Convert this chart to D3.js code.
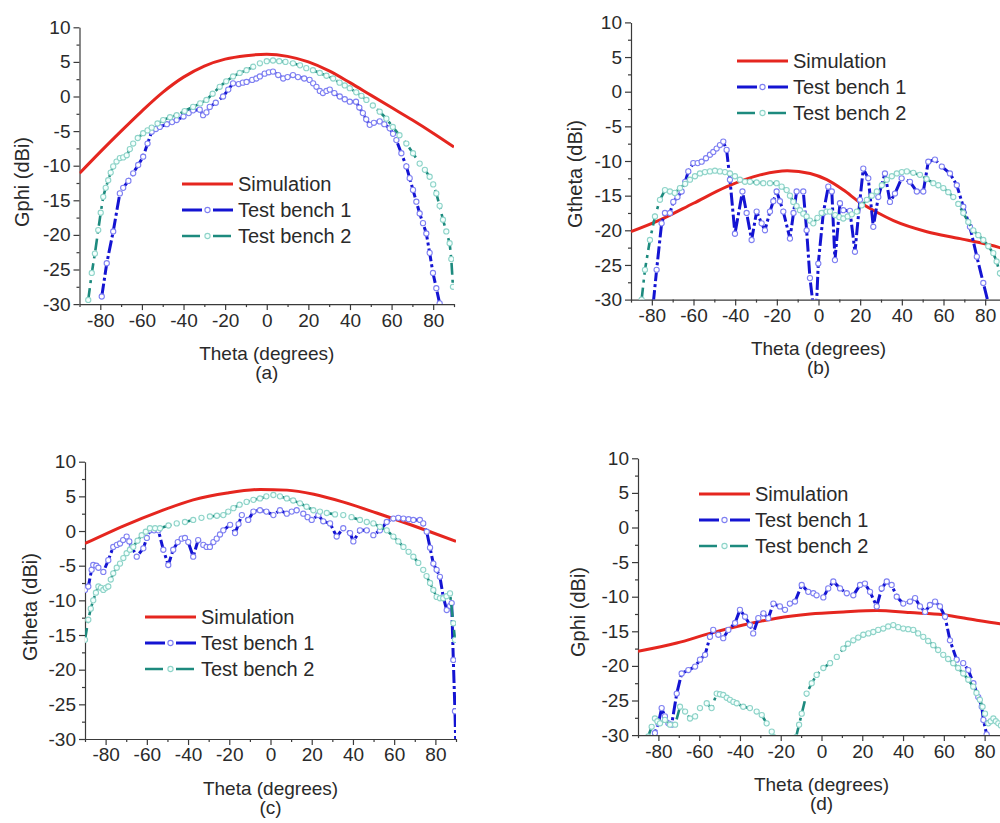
<!DOCTYPE html>
<html>
<head>
<meta charset="utf-8">
<script src="https://cdn.jsdelivr.net/npm/d3@7"></script>
<style>
  html, body { margin: 0; padding: 0; background: #fff; }
  svg { display: block; }
  text { font-family: "Liberation Sans", Arial, sans-serif; fill: #2a2a2a; }
</style>
</head>
<body>
<svg id="chart" width="1000" height="823"></svg>
<script>
// ---------------- DATA (theta in degrees, gain in dBi) ----------------
const xMajorTicks = [-80, -60, -40, -20, 0, 20, 40, 60, 80];
const yMajorTicks = [-30, -25, -20, -15, -10, -5, 0, 5, 10];
const seriesNames = ["Simulation", "Test bench 1", "Test bench 2"];
const xTitle = "Theta (degrees)";

// Panel (a) Gphi
const simA = [[-90,-11.1],[-80,-8.0],[-70,-5.0],[-60,-2.1],[-50,0.6],[-40,2.8],[-30,4.4],[-20,5.4],[-10,5.9],[0,6.1],[10,5.8],[20,5.0],[30,3.7],[40,2.0],[50,0.2],[60,-1.6],[70,-3.4],[80,-5.3],[90,-7.3]];
const tb1A = [[-79.3,-28.9],[-76.9,-24.1],[-73.8,-19.5],[-70.6,-14],[-69,-13.2],[-66.5,-12.2],[-64.2,-11.1],[-61.8,-9.9],[-59.4,-8.7],[-57.3,-6.8],[-55.3,-5.1],[-53.3,-4.7],[-51.4,-4.4],[-48,-4.0],[-45.5,-3.7],[-43.3,-3.4],[-40,-2.9],[-37.5,-2.4],[-35.4,-2.0],[-32.2,-1.9],[-30.6,-2.7],[-29,-2.3],[-27.4,-1.5],[-24.5,-0.9],[-21,0],[-18.5,1.0],[-16.2,1.9],[-13.5,1.8],[-11.5,2.0],[-9.7,2.1],[-7,2.4],[-5,2.6],[-3.3,2.9],[-1,3.3],[1,3.5],[3,3.6],[5.5,3.1],[7.9,2.6],[10,2.8],[12.6,3.1],[15,2.8],[18,2.6],[20.6,2.4],[22.3,1.9],[23.9,1.4],[25.5,0.8],[27,0.5],[28.7,0.8],[30.3,1.0],[32.5,0.5],[35.1,0],[37.5,-0.4],[39.9,-0.75],[42.9,-0.75],[44.5,-1.6],[46.2,-2.4],[47.8,-3.3],[49.5,-4.1],[51.5,-3.8],[54.3,-3.6],[56.5,-4.0],[59.1,-4.6],[60.7,-5.4],[62.3,-6.3],[64.7,-8.2],[67.1,-10.1],[68.7,-11.8],[70.3,-13.5],[71.9,-15.2],[73.5,-16.9],[75.1,-18.3],[76.7,-19.8],[78.3,-22.6],[79.9,-25.5],[81.5,-27.7],[83.1,-29.9],[84,-31]];
const tb2A = [[-85.8,-29.4],[-84.1,-25.5],[-82.6,-22.7],[-81,-19.3],[-79.8,-16.8],[-78.6,-14.5],[-77.4,-13.2],[-76.2,-12.1],[-75,-11],[-73.8,-10.1],[-72.2,-9.4],[-70.6,-8.9],[-69,-8.8],[-67.3,-8.5],[-65.8,-7.6],[-64.2,-6.8],[-62,-6.0],[-59.4,-5.3],[-57.3,-4.9],[-55.3,-4.5],[-52.5,-3.9],[-49.8,-3.4],[-46.5,-3.0],[-43.3,-2.7],[-39.5,-2.1],[-35.4,-1.5],[-32,-1.0],[-29,-0.5],[-26,0.4],[-22.6,1.4],[-19.5,2.2],[-16.2,2.9],[-13,3.4],[-9.7,3.8],[-6.5,4.3],[-3.3,4.8],[0,5.1],[3,5.2],[6,5.1],[9,5.0],[12.6,4.8],[16,4.5],[19,4.1],[22.2,3.8],[25.5,3.4],[28.7,3.0],[31.9,2.6],[35,2.0],[37.5,1.6],[39.9,1.2],[43,0.6],[45.5,0.1],[47.9,-0.5],[51,-1.3],[54.3,-2.2],[57.5,-3.2],[60.6,-4.4],[63.8,-5.6],[67.1,-6.8],[70.3,-8.2],[73.5,-9.7],[76,-10.6],[78.3,-11.6],[80,-12.7],[81.5,-14],[83.1,-15.8],[84.7,-17.8],[86.3,-19.5],[87.9,-21.2],[88.7,-23.5],[89.5,-27.5]];

// Panel (b) Gtheta
const simB = [[-90,-20.2],[-76,-18.5],[-60,-16.1],[-44,-13.7],[-28,-12.0],[-15,-11.4],[-4,-11.8],[4,-12.7],[12,-14.2],[20,-16.0],[28,-17.4],[36,-18.6],[52,-20.2],[68,-21.2],[87,-22.5],[90,-22.8]];
const tb1B = [[-79.3,-30.5],[-77.7,-25.7],[-75.3,-19],[-73.7,-17.5],[-71.3,-17.5],[-69.7,-15.9],[-67.7,-15.2],[-65.7,-14.4],[-64,-13],[-62.5,-11.5],[-60.1,-10.3],[-58,-10.3],[-56.1,-10.1],[-54,-9.6],[-52.1,-9.1],[-50.5,-8.7],[-48.9,-8.2],[-47.3,-7.7],[-45.7,-7.2],[-44.1,-8.4],[-42.5,-12.7],[-40.1,-20.5],[-36.5,-14.4],[-34.5,-17.5],[-32.1,-21.4],[-29.7,-17.3],[-27.3,-19],[-25.7,-20],[-23.3,-17.3],[-21.7,-15.8],[-20.1,-14.4],[-18.5,-15.8],[-16.9,-17.3],[-13.7,-21.2],[-12,-17.5],[-10.5,-14.4],[-7.3,-14.4],[-5.7,-20],[-4.1,-26.9],[-2.5,-31],[-1.0,-31],[-0.1,-24.8],[2.3,-17.5],[4.7,-13.7],[6.4,-14.4],[7.9,-24.3],[10.3,-16.1],[11.9,-17.1],[15.1,-17.2],[17.5,-23.1],[19.9,-15.6],[21.5,-11.1],[23.9,-12.5],[26.3,-19.5],[28.7,-15.2],[31.9,-11.8],[34.3,-15.9],[36.7,-14.7],[39.9,-12.5],[43.9,-13],[47.2,-14.4],[50.3,-14.4],[52.7,-10.1],[55.9,-9.8],[59.2,-10.8],[63.1,-11.8],[66.4,-13.5],[69.5,-16.6],[72.7,-19.5],[76,-23.8],[79.1,-27.6],[81.5,-30.5]];
const tb2B = [[-84.9,-30],[-83.3,-25.7],[-80.9,-21.4],[-78.5,-18],[-76.1,-15.6],[-73.7,-14.2],[-71.3,-14.4],[-69,-14.6],[-66.5,-13.9],[-64,-13.3],[-61.7,-12.7],[-59.3,-12.2],[-56.9,-11.8],[-54.5,-11.6],[-52.1,-11.5],[-49.7,-11.4],[-47.3,-11.5],[-44.9,-11.6],[-42.5,-11.8],[-40.1,-12.2],[-37.7,-12.7],[-35.3,-13],[-32.9,-13],[-29.7,-13.1],[-26.5,-13.2],[-23.3,-13.2],[-20.1,-13.2],[-17.7,-13.7],[-15.3,-14.2],[-13.7,-15],[-12.1,-15.9],[-10.5,-16.5],[-8.9,-17.1],[-7.3,-17.6],[-5.7,-18],[-4.1,-18.6],[-2.5,-19],[-0.5,-18.2],[1.5,-17.5],[3.9,-17.3],[5.5,-17.3],[8,-17.8],[10,-18.1],[11.9,-18.3],[14,-18.0],[16,-17.7],[18.4,-17.3],[20.8,-16.4],[23.2,-15.6],[25.6,-15],[28,-14.4],[30.4,-13.5],[32.8,-12.7],[35.2,-12.2],[37.6,-11.8],[40,-11.6],[42.4,-11.5],[45.5,-11.7],[48.7,-12],[51.9,-12.6],[55.1,-13.2],[57.5,-13.5],[59.9,-13.9],[62.3,-14.5],[64.7,-15.2],[67.1,-16.2],[69.5,-17.5],[71.9,-18.8],[74.3,-20],[76.7,-20.7],[79.1,-21.4],[81.5,-22.3],[83.9,-23.3],[85.5,-24.5],[87.1,-26.2],[88.7,-27.5],[90,-28.5]];

// Panel (c) Gtheta
const simC = [[-90,-1.8],[-70,0.9],[-54,2.8],[-37.5,4.5],[-21,5.5],[-5,6.0],[8,5.9],[21,5.3],[35,4.2],[51.5,2.6],[68,0.9],[77.4,-0.1],[90,-1.5]];
const tb1C = [[-90,-8.5],[-88.4,-8.0],[-86.8,-5.6],[-86,-4.9],[-84.5,-5.0],[-83.5,-5.3],[-81.1,-5.9],[-78.7,-4.2],[-76.3,-2.3],[-74.5,-2.0],[-73,-1.8],[-71.5,-1.3],[-69.8,-0.8],[-68.5,-1.5],[-67.3,-2.3],[-64.9,-3.7],[-61.7,-2.5],[-60,-1.0],[-58.5,0.1],[-56.5,0.1],[-54.4,0.1],[-52,-2.7],[-49.6,-4.9],[-47.2,-2.7],[-45,-1.6],[-43.1,-1.1],[-41.5,-1.0],[-39.9,-1.6],[-37.5,-3.7],[-35.1,-1.3],[-32.6,-2.0],[-31,-2.3],[-29.4,-2.3],[-27.7,-1.6],[-26.1,-1.1],[-24.5,-0.5],[-22.9,0.1],[-19.6,0.9],[-17.2,-0.3],[-15.5,1.0],[-13.9,2.3],[-10.8,1.6],[-8.3,2.8],[-5.1,3.0],[-2,2.8],[1.4,2.3],[4.6,3.0],[7.9,2.5],[10.3,2.8],[12.7,3.0],[15.9,2.5],[18,2.0],[20,1.6],[23.2,2.3],[25.6,1.4],[28.9,1.1],[32.1,-0.8],[35.3,0.4],[38.6,-0.3],[40.2,-1.5],[43.4,0.1],[46.7,0.1],[49.9,-0.6],[53.1,0.1],[56.4,1.3],[59.6,1.8],[62,1.9],[64.5,1.8],[67,1.7],[69.3,1.6],[72.5,1.6],[74.1,1.1],[75.8,-0.1],[77.4,-2.4],[79,-4.7],[80.6,-5.6],[82.2,-6.6],[83.8,-9.5],[85.5,-11.4],[87.1,-10.8],[87.9,-10.4],[88.7,-18.6],[89.5,-26],[89.9,-31]];
const tb2C = [[-90,-15.7],[-88.4,-12.8],[-87.2,-11.2],[-86,-10],[-84.7,-8.9],[-83.5,-8.0],[-82.3,-8.2],[-81.1,-8.5],[-79.9,-8.2],[-78.7,-8.0],[-77.5,-7.0],[-76.3,-6.1],[-74.6,-5.3],[-73,-4.7],[-71.4,-3.9],[-69.8,-3.2],[-68.2,-2.7],[-66.6,-2.3],[-64.5,-1.4],[-62.5,-0.6],[-60.5,-0.1],[-58.5,0.4],[-56,0.4],[-53.6,0.4],[-49.5,0.8],[-45.5,1.1],[-41.5,1.3],[-37.5,1.6],[-33.5,1.9],[-29.4,2.1],[-26,2.2],[-22.9,2.3],[-20.5,2.8],[-18,3.3],[-15,3.8],[-11.6,4.2],[-8.3,4.5],[-5.1,4.7],[-2,5.0],[1.4,5.2],[4.6,5.0],[7.9,4.7],[11,4.4],[14.3,4.0],[17.5,3.5],[20.8,3.0],[24,2.8],[27.3,2.6],[31.3,2.4],[35.3,2.3],[39.3,2.0],[43.4,1.6],[46.7,1.3],[49.9,1.1],[53.1,0.6],[56.4,0.1],[59.6,-0.8],[62,-1.5],[64.5,-2.3],[67,-3.0],[69.3,-3.7],[71.7,-4.6],[74.1,-5.6],[75.7,-6.5],[77.4,-7.5],[79,-8.5],[80.6,-9.5],[82.2,-9.7],[83.8,-9.7],[85.4,-9.4],[87.1,-9.0],[88.7,-13.3],[89.5,-15.7]];

// Panel (d) Gphi
const simD = [[-90,-17.9],[-71,-16.7],[-54.7,-15.3],[-38.4,-14.1],[-22,-13.1],[-5.6,-12.5],[10.7,-12.2],[27.1,-12.0],[43.4,-12.3],[59.7,-12.6],[76.1,-13.4],[87.5,-13.9],[90,-14.0]];
const tb1D = [[-83,-31],[-81.7,-29.7],[-80,-28.3],[-78.4,-26.1],[-76.8,-27.3],[-75.1,-28.3],[-73.5,-28.5],[-71,-24],[-68.6,-21.1],[-65.3,-20.6],[-62,-20.1],[-59.6,-19.1],[-57.1,-18.4],[-54.7,-15.8],[-53.1,-14.8],[-50.6,-15.5],[-48.2,-16],[-45.7,-14.8],[-42.4,-13.8],[-40,-11.9],[-37.5,-12.9],[-35.1,-14.1],[-33.5,-15.3],[-31,-13.1],[-28.5,-12.4],[-26.1,-13.1],[-23.6,-11],[-20.4,-11.4],[-17.9,-11.9],[-15.5,-11],[-13,-10.7],[-9.7,-8.3],[-6.5,-9.3],[-4,-9.5],[-2.4,-9.8],[0.9,-10.1],[3.3,-8.8],[5.8,-7.8],[9.1,-8.8],[12.4,-9.5],[15.6,-9.8],[18.9,-8.3],[21.3,-8.1],[23.8,-9.3],[27.1,-11.4],[29.5,-8.8],[32,-7.8],[34.4,-8.3],[36.9,-10],[40.1,-11],[43.4,-10.7],[45.9,-10.2],[48.3,-11.4],[50.8,-12.2],[53.2,-11.2],[55.7,-10.7],[58.1,-11.4],[60.6,-12.9],[63,-16.3],[66.3,-19.1],[69.5,-19.6],[72,-20.6],[74.5,-22.5],[76.9,-24.5],[78.6,-25.9],[79.4,-27.8],[81,-29.9],[82,-31]];
const tb2D = [[-85,-30.2],[-83.3,-28.8],[-81.7,-27.6],[-80.5,-28.0],[-79.2,-28.3],[-76.8,-27.8],[-74.3,-28.5],[-71.8,-28.5],[-69.4,-25.9],[-66.9,-26.6],[-64.5,-27.6],[-62,-27.3],[-59.6,-26.1],[-56.3,-25.4],[-53.9,-26.1],[-51.4,-24],[-49.8,-24.1],[-48.2,-24.2],[-46.5,-24.6],[-44.9,-24.9],[-43.2,-25.2],[-41.6,-25.4],[-38.4,-25.9],[-35.1,-26.1],[-31.8,-26.6],[-29.3,-27.1],[-26.9,-28.3],[-24.4,-29.5],[-23.5,-30.3],null,[-12.5,-30.3],[-11,-28.5],[-9.7,-26.9],[-7.3,-24],[-4.8,-22.5],[-2.4,-21.3],[0.9,-20.3],[4.2,-19.6],[7.5,-18.7],[10.7,-17.5],[13,-16.8],[15.6,-16.3],[18,-15.9],[20.5,-15.5],[23,-15.3],[25.4,-15.1],[27.8,-14.8],[30.3,-14.6],[32.7,-14.3],[35.2,-14.1],[37.6,-14.4],[40.1,-14.6],[42.5,-14.7],[45,-14.8],[47.4,-15.3],[49.9,-15.8],[52.3,-16.4],[54.8,-17],[57.2,-17.7],[59.7,-18.4],[62.1,-19],[64.6,-19.6],[67,-20.3],[69.5,-21.1],[72,-22],[74.4,-23],[76,-23.9],[77.7,-24.9],[79,-25.9],[80.2,-26.9],[81.8,-28.3],[83,-28],[84.3,-27.6],[85.5,-28],[86.7,-28.3],[88,-28.6],[90,-28.8]];

// ---------------- LAYOUT ----------------
const panels = [
  {sim: simA, tb1: tb1A, tb2: tb2A, ylabel: "Gphi (dBi)",   tag: "(a)", x0: 79.5, x1: 454,  yTop: 27.3,  yBot: 304.1, ylabX: 22,  ylabY: 182, legX: 182, legY: 184},
  {sim: simB, tb1: tb1B, tb2: tb2B, ylabel: "Gtheta (dBi)", tag: "(b)", x0: 631,  x1: 1006, yTop: 22.4,  yBot: 299.6, ylabX: 575, ylabY: 174, legX: 737, legY: 61},
  {sim: simC, tb1: tb1C, tb2: tb2C, ylabel: "Gtheta (dBi)", tag: "(c)", x0: 85,   x1: 456,  yTop: 461.7, yBot: 739,   ylabX: 30,  ylabY: 607, legX: 145, legY: 617},
  {sim: simD, tb1: tb1D, tb2: tb2D, ylabel: "Gphi (dBi)",   tag: "(d)", x0: 638,  x1: 1005, yTop: 458.3, yBot: 735.1, ylabX: 578, ylabY: 612, legX: 699, legY: 494}
];

const styles = [
  {color: "#e5261f", width: 3, dash: null, marker: null},
  {color: "#1414d2", width: 3, dash: "13,3,3,3", marker: {stroke: "#7f80f2", fill: "#ffffff"}},
  {color: "#1d8a7e", width: 2.6, dash: "12,5,3,5", marker: {stroke: "#8fd4c9", fill: "#f4fffd"}}
];

const svg = d3.select("#chart");
const fmt = d => String(d);

panels.forEach((p, i) => {
  const x = d3.scaleLinear().domain([-90, 90]).range([p.x0, p.x1]);
  const y = d3.scaleLinear().domain([-30, 10]).range([p.yBot, p.yTop]);
  const g = svg.append("g");

  const clipId = "clip" + i;
  svg.append("clipPath").attr("id", clipId)
    .append("rect").attr("x", p.x0).attr("y", p.yTop - 5)
    .attr("width", p.x1 - p.x0).attr("height", p.yBot - p.yTop + 5);

  // axes
  const axisColor = "#3a3a3a";
  const xMinor = d3.range(-90, 91, 10);
  const yMinor = d3.range(-27.5, 10, 5);

  const gx = g.append("g").attr("transform", `translate(0,${p.yBot})`)
    .call(d3.axisBottom(x).tickValues(xMajorTicks).tickSize(6).tickSizeOuter(0).tickPadding(3).tickFormat(fmt));
  const gxm = g.append("g").attr("transform", `translate(0,${p.yBot})`)
    .call(d3.axisBottom(x).tickValues(xMinor.filter(v => !xMajorTicks.includes(v))).tickSize(3).tickSizeOuter(0).tickFormat(""));
  const gy = g.append("g").attr("transform", `translate(${p.x0},0)`)
    .call(d3.axisLeft(y).tickValues(yMajorTicks).tickSize(6).tickSizeOuter(0).tickPadding(3).tickFormat(fmt));
  const gym = g.append("g").attr("transform", `translate(${p.x0},0)`)
    .call(d3.axisLeft(y).tickValues(yMinor).tickSize(3).tickSizeOuter(0).tickFormat(""));
  [gx, gxm, gy, gym].forEach(a => {
    a.selectAll("path.domain").attr("stroke", axisColor).attr("stroke-width", 1.2);
    a.selectAll("line").attr("stroke", axisColor).attr("stroke-width", 1.2);
    a.selectAll("text").style("font-family", '"Liberation Sans", Arial, sans-serif')
      .style("font-size", "19px").attr("fill", "#2a2a2a");
  });
  gxm.select("path.domain").remove();
  gym.select("path.domain").remove();

  // titles
  const cx = x(0);
  g.append("text").attr("x", cx).attr("y", p.yBot + 49).attr("dy", "0.35em")
    .attr("text-anchor", "middle").style("font-size", "19px").text(xTitle);
  g.append("text").attr("x", cx).attr("y", p.yBot + 68).attr("dy", "0.35em")
    .attr("text-anchor", "middle").style("font-size", "19px").text(p.tag);
  g.append("text").attr("transform", `translate(${p.ylabX},${p.ylabY}) rotate(-90)`)
    .attr("dy", "0.35em").attr("text-anchor", "middle").style("font-size", "20px").text(p.ylabel);

  // series
  const plot = g.append("g").attr("clip-path", `url(#${clipId})`);
  const series = [p.sim, p.tb1, p.tb2];
  series.forEach((data, k) => {
    const st = styles[k];
    const line = d3.line().defined(d => d !== null)
      .x(d => x(d[0])).y(d => y(d[1]))
      .curve(k === 0 ? d3.curveMonotoneX : d3.curveLinear);
    plot.append("path").datum(data)
      .attr("fill", "none").attr("stroke", st.color).attr("stroke-width", st.width)
      .attr("stroke-dasharray", st.dash).attr("stroke-linejoin", "round")
      .attr("d", line);
    if (st.marker) {
      plot.selectAll(null).data(data.filter(d => d !== null)).enter().append("circle")
        .attr("cx", d => x(d[0])).attr("cy", d => y(d[1])).attr("r", 2.6)
        .attr("fill", st.marker.fill).attr("stroke", st.marker.stroke).attr("stroke-width", 1.1);
    }
  });

  // legend
  const lg = g.append("g");
  seriesNames.forEach((name, k) => {
    const st = styles[k];
    const ly = p.legY + k * 26;
    lg.append("line").attr("x1", p.legX).attr("x2", p.legX + 51).attr("y1", ly).attr("y2", ly)
      .attr("stroke", st.color).attr("stroke-width", st.width)
      .attr("stroke-dasharray", k === 0 ? null : (k === 1 ? "20,4,3,4,20" : "18,5,3,5,18"));
    if (st.marker) {
      lg.append("circle").attr("cx", p.legX + 25.5).attr("cy", ly).attr("r", 2.6)
        .attr("fill", st.marker.fill).attr("stroke", st.marker.stroke).attr("stroke-width", 1.1);
    }
    lg.append("text").attr("x", p.legX + 56).attr("y", ly).attr("dy", "0.35em")
      .style("font-size", "20px").text(name);
  });
});
</script>
</body>
</html>
